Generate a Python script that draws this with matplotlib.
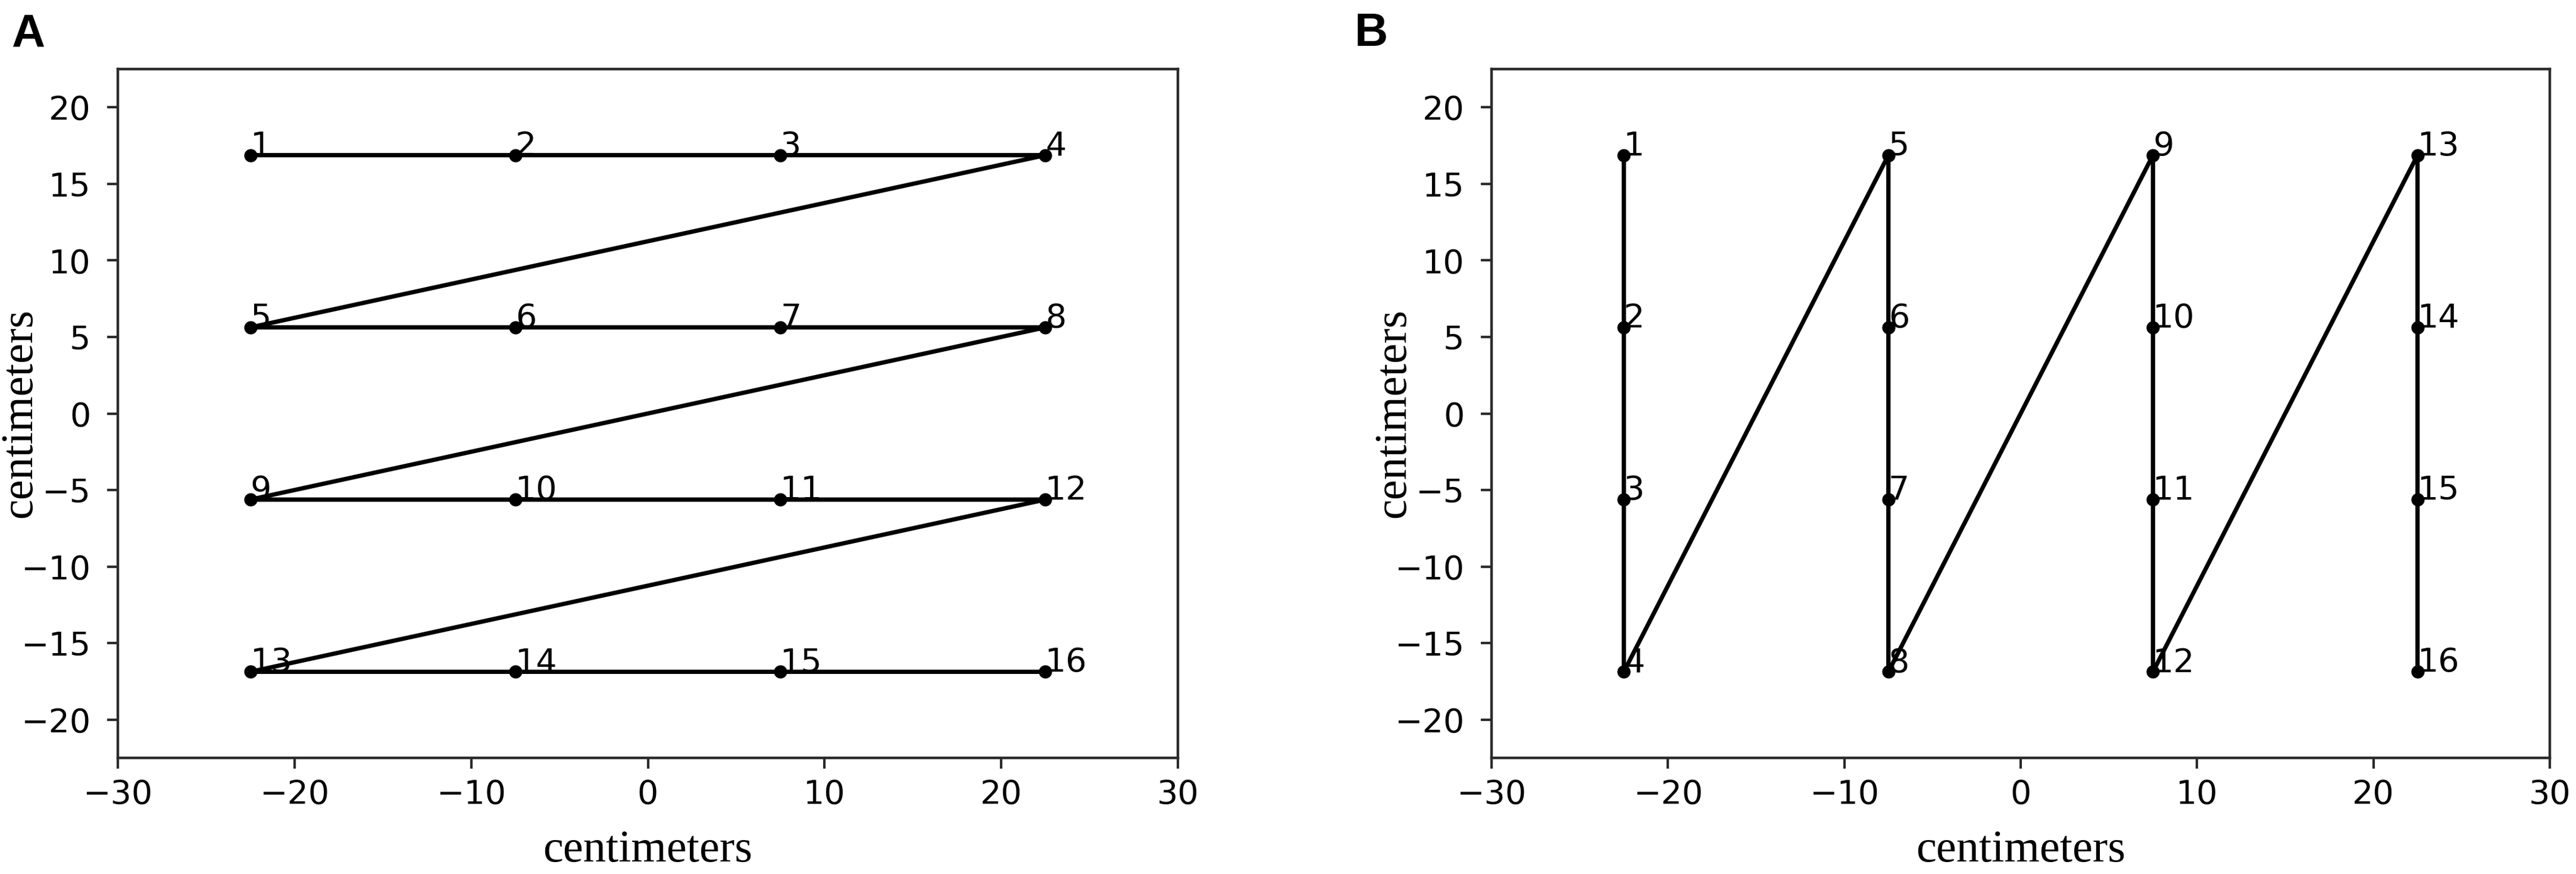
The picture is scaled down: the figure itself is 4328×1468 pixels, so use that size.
import matplotlib.pyplot as plt

# scan order A: row by row, B: column by column
a_x = [-22.5, -7.5, 7.5, 22.5, -22.5, -7.5, 7.5, 22.5,
       -22.5, -7.5, 7.5, 22.5, -22.5, -7.5, 7.5, 22.5]
a_y = [16.875, 16.875, 16.875, 16.875, 5.625, 5.625, 5.625, 5.625,
       -5.625, -5.625, -5.625, -5.625, -16.875, -16.875, -16.875, -16.875]

b_x = [-22.5, -22.5, -22.5, -22.5, -7.5, -7.5, -7.5, -7.5,
       7.5, 7.5, 7.5, 7.5, 22.5, 22.5, 22.5, 22.5]
b_y = [16.875, 5.625, -5.625, -16.875, 16.875, 5.625, -5.625, -16.875,
       16.875, 5.625, -5.625, -16.875, 16.875, 5.625, -5.625, -16.875]

point_labels = [str(i) for i in range(1, 17)]
x_label = "centimeters"
y_label = "centimeters"

W, H = 4328, 1468
fig = plt.figure(figsize=(W / 100, H / 100), dpi=100)

def px_axes(left, right, top, bottom):
    return fig.add_axes([left / W, 1 - bottom / H, (right - left) / W, (bottom - top) / H])

def draw(ax, xs, ys):
    ax.plot(xs, ys, color="black", lw=5.2, marker="o", ms=15, zorder=2)
    for x, y, s in zip(xs, ys, point_labels):
        ax.text(x, y, s, fontsize=40, family="DejaVu Sans", color="black", zorder=3)
    ax.set_xlim(-30, 30)
    ax.set_ylim(-22.5, 22.5)
    ax.set_xticks([-30, -20, -10, 0, 10, 20, 30])
    ax.set_yticks([-20, -15, -10, -5, 0, 5, 10, 15, 20])
    for sp in ax.spines.values():
        sp.set_linewidth(3.2)
        sp.set_color("#2b2b2b")
    ax.tick_params(axis="both", length=13, width=3, color="#2b2b2b",
                   labelsize=40, labelcolor="black")
    ax.tick_params(axis="x", pad=12)
    ax.tick_params(axis="y", pad=20)
    for t in ax.get_xticklabels() + ax.get_yticklabels():
        t.set_family("DejaVu Sans")
    ax.set_xlabel(x_label, fontsize=55, family="Liberation Serif")
    ax.set_ylabel(y_label, fontsize=55, family="Liberation Serif")
    ax.xaxis.set_label_coords(0.5, -0.105)
    ax.yaxis.set_label_coords(-0.073, 0.5)

ax_a = px_axes(198, 1979, 116, 1273)
draw(ax_a, a_x, a_y)
ax_b = px_axes(2506, 4284, 116, 1273)
draw(ax_b, b_x, b_y)

fig.text(19 / W, 1 - 21 / H, "A", fontsize=56, fontweight="bold",
         family="Liberation Sans", va="top", ha="left")
fig.text(2276 / W, 1 - 20 / H, "B", fontsize=56, fontweight="bold",
         family="Liberation Sans", va="top", ha="left")

fig.savefig("out.png", dpi=100, facecolor="white")
